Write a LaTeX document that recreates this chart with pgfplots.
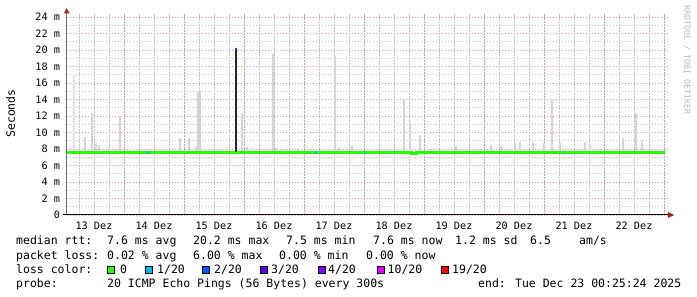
\documentclass[border=0pt]{standalone}
\usepackage{fontspec}
\usepackage{pgfplots}
\pgfplotsset{compat=1.18}
\newfontfamily\dmono{DejaVu Sans Mono}
\newcommand\tickfont{\dmono\fontsize{10.2bp}{12bp}\selectfont}
\newcommand\lfont{\dmono\fontsize{11.5bp}{13bp}\selectfont}
\definecolor{lossA}{HTML}{26FF00}
\definecolor{lossB}{HTML}{00B8FF}
\definecolor{lossC}{HTML}{0059FF}
\definecolor{lossD}{HTML}{5E00FF}
\definecolor{lossE}{HTML}{7E00FF}
\definecolor{lossF}{HTML}{DD00FF}
\definecolor{lossG}{HTML}{FF0000}
\definecolor{redgrid}{RGB}{228,150,150}
\definecolor{greygrid}{RGB}{195,195,195}
\definecolor{smoke}{RGB}{212,212,212}
\definecolor{smokelight}{RGB}{228,228,228}
\definecolor{arrowred}{RGB}{160,35,35}
\definecolor{axisgrey}{RGB}{110,110,110}
\begin{document}
\begin{tikzpicture}
\useasboundingbox (0,0) rectangle (697bp,297bp);
\begin{axis}[
  at={(66.7bp,82bp)}, anchor=south west,
  scale only axis, width=601.3bp, height=201.3bp,
  xmin=0.045, xmax=10.067, ymin=0, ymax=24.4,
  clip=false,
  axis line style={draw=none},
  major tick length=0pt, minor tick length=0pt,
  tick style={draw=none},
  xtick={0.5,1.5,2.5,3.5,4.5,5.5,6.5,7.5,8.5,9.5},
  xticklabels={13 Dez,14 Dez,15 Dez,16 Dez,17 Dez,18 Dez,19 Dez,20 Dez,21 Dez,22 Dez},
  ytick={0,2,4,6,8,10,12,14,16,18,20,22,24},
  yticklabels={0,2 m,4 m,6 m,8 m,10 m,12 m,14 m,16 m,18 m,20 m,22 m,24 m},
  minor xtick={0.25,0.5,0.75,1.25,1.5,1.75,2.25,2.5,2.75,3.25,3.5,3.75,4.25,4.5,4.75,5.25,5.5,5.75,6.25,6.5,6.75,7.25,7.5,7.75,8.25,8.5,8.75,9.25,9.5,9.75},
  minor ytick={1,3,5,7,9,11,13,15,17,19,21,23},
  extra x ticks={1,2,3,4,5,6,7,8,9,10},
  extra x tick labels={},
  extra x tick style={grid=major},
  ymajorgrids, yminorgrids, xminorgrids,
  major grid style={redgrid, line width=0.8bp, dash pattern=on 1.5bp off 1.5bp},
  minor grid style={greygrid, line width=0.8bp, dash pattern=on 1.5bp off 1.5bp},
  xticklabel style={font=\tickfont, anchor=north, inner sep=0pt, yshift=-6.5bp},
  yticklabel style={font=\tickfont, anchor=east, inner sep=0pt, xshift=-6.5bp},
]
% faint smoke
\addplot[smokelight, line width=1.2bp, unbounded coords=jump] coordinates {
 (0.167,7.7) (0.167,17.1) (0.167,nan)
 (1.100,7.7) (1.100,8.0) (1.100,nan)
 (1.600,7.7) (1.600,8.0) (1.600,nan)
 (3.600,7.7) (3.600,7.9) (3.600,nan)
 (6.600,7.7) (6.600,8.0) (6.600,nan)
};
% smoke (max ping spikes)
\addplot[smoke, line width=1.3bp, unbounded coords=jump] coordinates {
 (0.350,7.7) (0.350,9.5) (0.350,nan)
 (0.467,7.7) (0.467,12.4) (0.467,nan)
 (0.533,7.7) (0.533,8.7) (0.533,nan)
 (0.583,7.7) (0.583,8.5) (0.583,nan)
 (0.750,7.7) (0.750,8.1) (0.750,nan)
 (0.933,7.7) (0.933,12.0) (0.933,nan)
 (1.933,7.7) (1.933,9.3) (1.933,nan)
 (2.083,7.7) (2.083,9.3) (2.083,nan)
 (2.200,7.7) (2.200,8.2) (2.200,nan)
 (2.233,7.7) (2.233,14.9) (2.233,nan)
 (2.267,7.7) (2.267,15.2) (2.267,nan)
 (2.967,7.7) (2.967,12.4) (2.967,nan)
 (3.050,7.7) (3.050,8.2) (3.050,nan)
 (3.483,7.7) (3.483,19.5) (3.483,nan)
 (3.533,7.7) (3.533,8.1) (3.533,nan)
 (3.900,7.7) (3.900,8.1) (3.900,nan)
 (4.517,7.7) (4.517,19.3) (4.517,nan)
 (4.583,7.7) (4.583,8.1) (4.583,nan)
 (4.800,7.7) (4.800,8.4) (4.800,nan)
 (5.667,7.7) (5.667,13.9) (5.667,nan)
 (5.767,7.7) (5.767,11.1) (5.767,nan)
 (5.933,7.7) (5.933,9.7) (5.933,nan)
 (6.533,7.7) (6.533,8.4) (6.533,nan)
 (7.117,7.7) (7.117,8.5) (7.117,nan)
 (7.283,7.7) (7.283,8.4) (7.283,nan)
 (7.517,7.7) (7.517,8.7) (7.517,nan)
 (7.600,7.7) (7.600,8.9) (7.600,nan)
 (7.817,7.7) (7.817,8.9) (7.817,nan)
 (8.000,7.7) (8.000,8.7) (8.000,nan)
 (8.133,7.7) (8.133,13.9) (8.133,nan)
 (8.267,7.7) (8.267,8.7) (8.267,nan)
 (8.683,7.7) (8.683,8.8) (8.683,nan)
 (8.767,7.7) (8.767,8.5) (8.767,nan)
 (9.317,7.7) (9.317,9.3) (9.317,nan)
 (9.533,7.7) (9.533,12.4) (9.533,nan)
 (9.633,7.7) (9.633,9.0) (9.633,nan)
};
% median rtt, 0 loss
\addplot[lossA, line width=3bp] coordinates {
 (0.045,7.6) (5.80,7.6) (5.80,7.42) (5.88,7.42) (5.88,7.6) (10.02,7.6)};
% median rtt, 1/20 loss
\addplot[lossB, line width=3bp] coordinates {(1.39,7.6) (1.42,7.6)};
\addplot[lossB, line width=3bp] coordinates {(4.19,7.6) (4.22,7.6)};
\addplot[lossB, line width=3bp] coordinates {(5.01,7.6) (5.03,7.6)};
\addplot[lossB, line width=3bp] coordinates {(8.31,7.6) (8.33,7.6)};
% spike of the median
\addplot[black!85, line width=2bp] coordinates {(2.867,7.6) (2.867,20.0)};
\addplot[lossC, line width=2bp] coordinates {(2.867,19.95) (2.867,20.2)};
\end{axis}
% axis lines and arrows
\draw[axisgrey, line width=1bp] (66.7bp,82bp) -- (66.7bp,284bp);
\fill[arrowred] (63.7bp,283.5bp) -- (66.7bp,288.8bp) -- (69.7bp,283.5bp) -- cycle;
\draw[black, line width=1bp] (62.5bp,82bp) -- (669bp,82bp);
\fill[arrowred] (668bp,85bp) -- (674bp,82bp) -- (668bp,79bp) -- cycle;
% axis title and watermark
\node[rotate=90, font=\lfont, inner sep=0pt] at (10.5bp,183.5bp) {Seconds};
\node[rotate=-90, font=\dmono\fontsize{8.3bp}{9bp}\selectfont, text=black!28, inner sep=0pt] at (687bp,237bp) {RRDTOOL / TOBI OETIKER};
% legend
\begin{scope}[every node/.style={anchor=base west, inner sep=0pt, font=\lfont}]
\node at (16bp,52bp) {median rtt:};
\node at (107bp,52bp) {7.6 ms avg};
\node at (193bp,52bp) {20.2 ms max};
\node at (286bp,52bp) {7.5 ms min};
\node at (373bp,52bp) {7.6 ms now};
\node at (455bp,52bp) {1.2 ms sd};
\node at (530bp,52bp) {6.5};
\node at (579bp,52bp) {am/s};
\node at (16bp,38bp) {packet loss:};
\node at (107bp,38bp) {0.02 \% avg};
\node at (193bp,38bp) {6.00 \% max};
\node at (279bp,38bp) {0.00 \% min};
\node at (366bp,38bp) {0.00 \% now};
\node at (16bp,24bp) {loss color:};
\node at (120bp,24bp) {0};
\node at (157bp,24bp) {1/20};
\node at (214bp,24bp) {2/20};
\node at (271bp,24bp) {3/20};
\node at (328bp,24bp) {4/20};
\node at (387.5bp,24bp) {10/20};
\node at (452bp,24bp) {19/20};
\node at (16bp,10bp) {probe:};
\node at (107bp,10bp) {20 ICMP Echo Pings (56 Bytes) every 300s};
\node at (478bp,10bp) {end: Tue Dec 23 00:25:24 2025};
\end{scope}
\filldraw[fill=lossA, draw=black, line width=0.6bp] (107.3bp,24bp) rectangle (114.3bp,31bp);
\filldraw[fill=lossB, draw=black, line width=0.6bp] (145.7bp,24bp) rectangle (152.7bp,31bp);
\filldraw[fill=lossC, draw=black, line width=0.6bp] (202.7bp,24bp) rectangle (209.7bp,31bp);
\filldraw[fill=lossD, draw=black, line width=0.6bp] (260bp,24bp) rectangle (267bp,31bp);
\filldraw[fill=lossE, draw=black, line width=0.6bp] (318.3bp,24bp) rectangle (325.3bp,31bp);
\filldraw[fill=lossF, draw=black, line width=0.6bp] (377.7bp,24bp) rectangle (384.7bp,31bp);
\filldraw[fill=lossG, draw=black, line width=0.6bp] (441.7bp,24bp) rectangle (448.7bp,31bp);
\end{tikzpicture}
\end{document}
